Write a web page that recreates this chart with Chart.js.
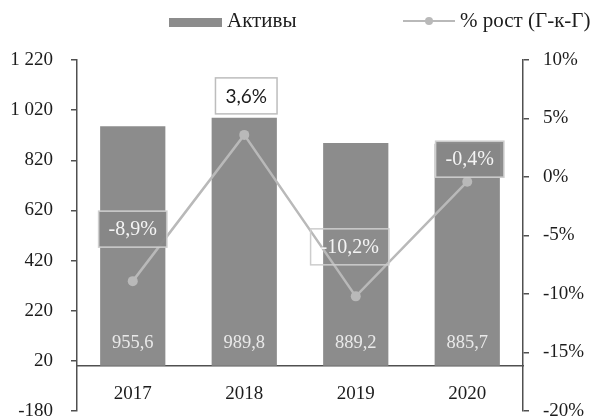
<!DOCTYPE html>
<html>
<head>
<meta charset="utf-8">
<script src="https://cdn.jsdelivr.net/npm/chart.js@4.4.1/dist/chart.umd.min.js"></script>
<style>
html,body{margin:0;padding:0;background:#ffffff;}
#wrap{width:597px;height:419px;position:relative;}
</style>
</head>
<body>
<div id="wrap"><canvas id="c"></canvas></div>
<script>
// ---- data ----
const categories = ['2017', '2018', '2019', '2020'];
const assets = [955.6, 989.8, 889.2, 885.7];
const growth = [-8.9, 3.6, -10.2, -0.4];
const seriesNames = ['Активы', '% рост (Г-к-Г)'];
const leftAxisRange = [-180, 1220, 200];
const rightAxisRange = [-20, 10, 5];

// ---- styles ----
const SERIF = '"Liberation Serif", "Times New Roman", serif';
const SANS = 'Lato, "Open Sans", sans-serif';
const BAR_COLOR = '#8c8c8c';
const LINE_COLOR = '#b9b9b9';
const AXIS_COLOR = '#505050';
const TEXT_COLOR = '#1c1c1c';

// label placement relative to each growth point (pixels) and per-label look
const growthLabelOffsets = [[0, -52], [2, -39], [-6, -49.5], [2.5, -22.5]];
const growthLabelLooks = [
  { fill: 'rgba(135,135,135,0.95)', stroke: '#cfcfcf', color: '#f4f4f4', font: '20px ' + SERIF },
  { fill: '#ffffff', stroke: '#bdbdbd', color: '#1a1a1a', font: '19px ' + SANS },
  { fill: null, stroke: '#cdcdcd', color: '#f4f4f4', font: '20px ' + SERIF },
  { fill: 'rgba(135,135,135,0.95)', stroke: '#cfcfcf', color: '#f4f4f4', font: '20px ' + SERIF }
];

const comma = (v, d) => v.toFixed(d).replace('.', ',');
const thousands = v => String(v).replace(/\B(?=(\d{3})+(?!\d))/g, ' ');

const valueLabels = {
  id: 'valueLabels',
  afterDatasetsDraw(chart) {
    const ctx = chart.ctx;
    ctx.save();
    // bar values near the base
    const barMeta = chart.getDatasetMeta(0);
    ctx.font = '18.5px ' + SERIF;
    ctx.fillStyle = '#e9e9e9';
    ctx.textAlign = 'center';
    ctx.textBaseline = 'middle';
    barMeta.data.forEach((el, i) => {
      ctx.fillText(comma(assets[i], 1), el.x, el.base - 23);
    });
    // growth labels in boxes
    const lineMeta = chart.getDatasetMeta(1);
    lineMeta.data.forEach((pt, i) => {
      const look = growthLabelLooks[i];
      const off = growthLabelOffsets[i];
      const text = comma(growth[i], 1) + '%';
      ctx.font = look.font;
      const w = ctx.measureText(text).width + 20;
      const h = 36;
      const cx = pt.x + off[0], cy = pt.y + off[1];
      if (look.fill) { ctx.fillStyle = look.fill; ctx.fillRect(cx - w / 2, cy - h / 2, w, h); }
      ctx.strokeStyle = look.stroke;
      ctx.lineWidth = 1.5;
      ctx.strokeRect(cx - w / 2, cy - h / 2, w, h);
      ctx.fillStyle = look.color;
      ctx.fillText(text, cx, cy + 1);
    });
    ctx.restore();
  }
};

const customLegend = {
  id: 'customLegend',
  afterDraw(chart) {
    const ctx = chart.ctx;
    const ds = chart.data.datasets;
    ctx.save();
    ctx.font = '21px ' + SERIF;
    ctx.textBaseline = 'middle';
    ctx.textAlign = 'left';
    // bar item
    ctx.fillStyle = ds[0].backgroundColor;
    ctx.fillRect(169, 18, 53, 9);
    ctx.fillStyle = TEXT_COLOR;
    ctx.fillText(ds[0].label, 227, 21);
    // line item
    ctx.strokeStyle = ds[1].borderColor;
    ctx.lineWidth = 2;
    ctx.beginPath(); ctx.moveTo(403, 21); ctx.lineTo(455, 21); ctx.stroke();
    ctx.fillStyle = ds[1].pointBackgroundColor;
    ctx.beginPath(); ctx.arc(429, 21, 4, 0, Math.PI * 2); ctx.fill();
    ctx.fillStyle = TEXT_COLOR;
    ctx.fillText(ds[1].label, 460, 21);
    ctx.restore();
  }
};

const noVerticalOverflow = (s, width) => { s.width = width; s.paddingTop = 0; s.paddingBottom = 0; };

new Chart(document.getElementById('c'), {
  data: {
    labels: categories,
    datasets: [
      {
        type: 'bar',
        label: seriesNames[0],
        data: assets,
        yAxisID: 'y',
        backgroundColor: BAR_COLOR,
        borderWidth: 0,
        categoryPercentage: 1,
        barPercentage: 0.585,
        order: 2
      },
      {
        type: 'line',
        label: seriesNames[1],
        data: growth,
        yAxisID: 'y1',
        borderColor: LINE_COLOR,
        borderWidth: 2.5,
        pointRadius: 5,
        pointBackgroundColor: LINE_COLOR,
        pointBorderColor: LINE_COLOR,
        pointBorderWidth: 0,
        tension: 0,
        order: 1
      }
    ]
  },
  options: {
    responsive: true,
    maintainAspectRatio: false,
    animation: false,
    layout: { padding: { top: 60, bottom: 8, left: 0, right: 0 } },
    plugins: { legend: { display: false }, tooltip: { enabled: false } },
    scales: {
      x: {
        type: 'category',
        position: { y: 0 },
        offset: true,
        grid: { display: false, drawTicks: false },
        border: { display: true, color: AXIS_COLOR, width: 1.5 },
        ticks: { color: TEXT_COLOR, font: { family: SERIF, size: 19 }, padding: 17, maxRotation: 0 },
        afterFit(s) { s.height = 0; s.paddingLeft = 0; s.paddingRight = 0; }
      },
      y: {
        position: 'left',
        min: leftAxisRange[0],
        max: leftAxisRange[1],
        ticks: {
          stepSize: leftAxisRange[2],
          color: TEXT_COLOR,
          font: { family: SERIF, size: 19 },
          padding: 18,
          callback: v => thousands(v)
        },
        grid: { drawOnChartArea: false, drawTicks: true, tickLength: 6, color: AXIS_COLOR, lineWidth: 1.5 },
        border: { display: true, color: AXIS_COLOR, width: 1.5 },
        afterFit(s) { noVerticalOverflow(s, 77); }
      },
      y1: {
        position: 'right',
        min: rightAxisRange[0],
        max: rightAxisRange[1],
        ticks: {
          stepSize: rightAxisRange[2],
          color: TEXT_COLOR,
          font: { family: SERIF, size: 19 },
          padding: 14,
          callback: v => v + '%'
        },
        grid: { drawOnChartArea: false, drawTicks: true, tickLength: 6, color: AXIS_COLOR, lineWidth: 1.5 },
        border: { display: true, color: AXIS_COLOR, width: 1.5 },
        afterFit(s) { noVerticalOverflow(s, 74); }
      }
    }
  },
  plugins: [valueLabels, customLegend]
});
</script>
</body>
</html>
